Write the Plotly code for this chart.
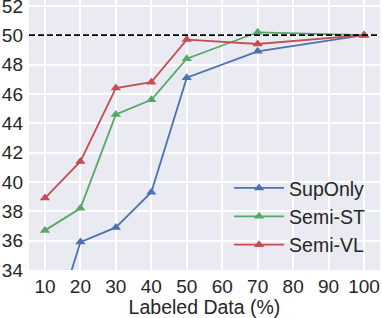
import plotly.graph_objects as go

labeled = [10, 20, 30, 40, 50, 70, 100]
sup_only = [28.2, 35.9, 36.9, 39.3, 47.1, 48.9, 50.0]
semi_st = [36.7, 38.2, 44.6, 45.6, 48.4, 50.2, 50.0]
semi_vl = [38.9, 41.4, 46.4, 46.8, 49.7, 49.4, 50.0]
reference_level = 50.0
x_ticks = [10, 20, 30, 40, 50, 60, 70, 80, 90, 100]
y_ticks = [34, 36, 38, 40, 42, 44, 46, 48, 50, 52]

series = [
    ("SupOnly", sup_only, "#4C72B0"),
    ("Semi-ST", semi_st, "#55A868"),
    ("Semi-VL", semi_vl, "#C44E52"),
]

FONT = "Liberation Sans, Arial, sans-serif"

fig = go.Figure()
for name, vals, color in series:
    fig.add_trace(go.Scatter(
        x=labeled, y=vals, name=name, mode="lines+markers",
        line=dict(color=color, width=1.8),
        marker=dict(symbol="triangle-up", size=9, color=color),
        cliponaxis=True,
    ))

fig.add_shape(type="line", xref="paper", x0=0, x1=1, yref="y",
              y0=reference_level, y1=reference_level,
              line=dict(color="black", width=1.8, dash="6px,3px"), layer="above")

fig.update_layout(
    width=382, height=318,
    margin=dict(l=29, r=2, t=0, b=48, autoexpand=False),
    paper_bgcolor="white",
    plot_bgcolor="#EAEAF2",
    font=dict(family=FONT, size=19, color="#262626"),
    showlegend=True,
    legend=dict(
        x=0.57, y=0.375, xanchor="left", yanchor="top",
        bgcolor="rgba(0,0,0,0)", borderwidth=0,
        itemwidth=50,
        font=dict(size=19.5, color="#262626"),
    ),
    xaxis=dict(
        range=[5.5, 104.5], tickvals=x_ticks, automargin=False,
        showgrid=True, gridcolor="white", gridwidth=1.5,
        zeroline=False, showline=False, ticks="",
        title=dict(text="Labeled Data (%)", font=dict(size=19.5), standoff=4),
        tickfont=dict(size=19), ticklabelstandoff=3,
        ticklabeloverflow="allow",
    ),
    yaxis=dict(
        range=[34, 52.4], tickvals=y_ticks, automargin=False,
        showgrid=True, gridcolor="white", gridwidth=1.5,
        zeroline=False, showline=False, ticks="",
        tickfont=dict(size=19),
        ticklabelstandoff=5,
        ticklabeloverflow="allow",
    ),
)

fig.write_html(
    "out.html",
    config={"displayModeBar": False},
    post_script="document.body.style.margin='0';document.body.style.padding='0';document.body.style.overflow='hidden';",
)
